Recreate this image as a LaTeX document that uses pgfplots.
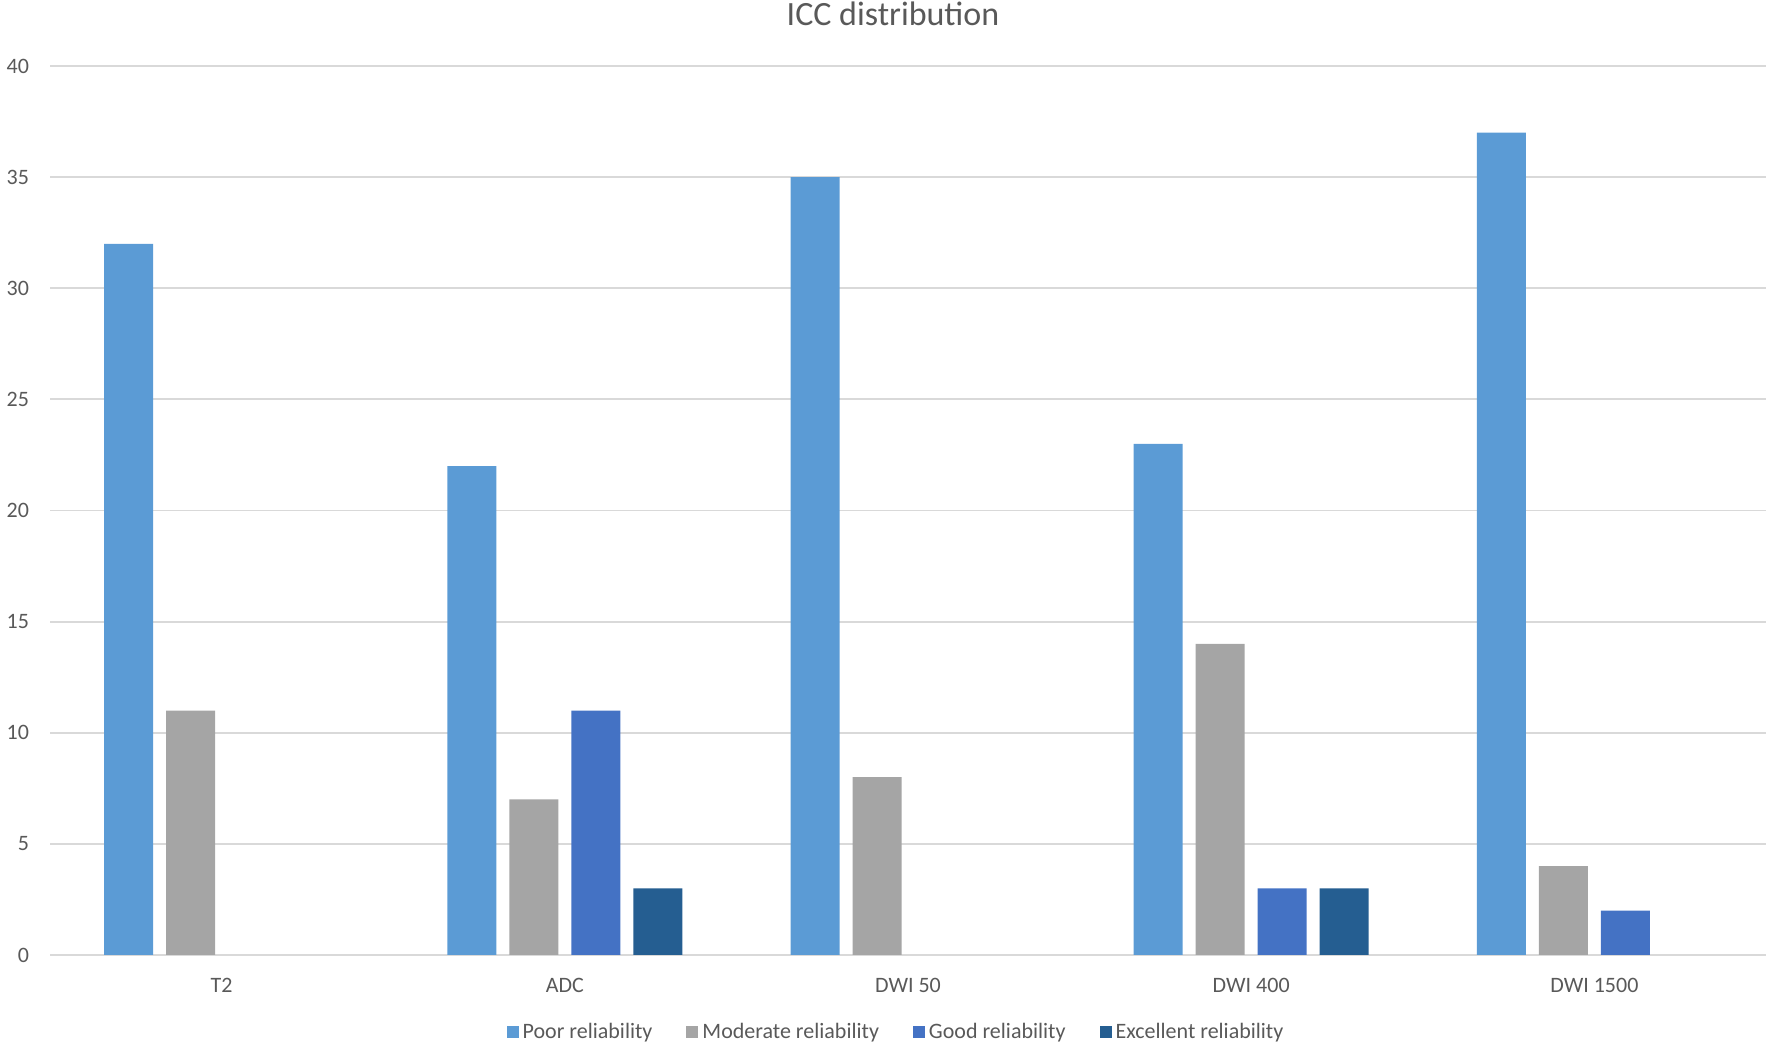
\documentclass[border=0pt]{standalone}
\usepackage{pgfplots}
\pgfplotsset{compat=1.18}
\usepackage{fontspec}
\setmainfont{Carlito}
\definecolor{cPoor}{HTML}{5B9BD5}
\definecolor{cMod}{HTML}{A5A5A5}
\definecolor{cGood}{HTML}{4472C4}
\definecolor{cExc}{HTML}{255E91}
\definecolor{gridc}{HTML}{D9D9D9}
\definecolor{txt}{HTML}{595959}
\begin{document}
\begin{tikzpicture}
\path[use as bounding box] (0,0) rectangle (886pt,524pt);
\begin{axis}[
  at={(25pt,46.5pt)}, anchor=south west,
  scale only axis, width=858pt, height=444.5pt,
  ybar=6.5pt, bar width=24.5pt,
  xmin=-0.5, xmax=4.5, ymin=0, ymax=40,
  xtick={0,1,2,3,4},
  xticklabels={T2,ADC,DWI 50,DWI 400,DWI 1500},
  ytick={0,5,...,40},
  axis lines*=left,
  y axis line style={draw=none},
  x axis line style={draw=gridc, line width=0.9pt},
  tick style={draw=none},
  ymajorgrids, major grid style={draw=gridc, line width=0.9pt},
  /pgf/number format/assume math mode=true,
  tick label style={font=\fontsize{11}{13}\selectfont, text=txt},
  yticklabel style={xshift=-7pt},
  xticklabel style={yshift=-4pt},
  title={ICC distribution},
  title style={font=\fontsize{17}{20}\selectfont, text=txt, at={(axis description cs:0.5,1)}, anchor=center, yshift=20pt, xshift=-7.5pt},
  legend columns=4,
  legend style={draw=none, fill=none, at={(axis description cs:0.4936,-0.0866)}, anchor=center,
    font=\fontsize{11}{13}\selectfont, text=txt,
    /tikz/every even column/.append style={column sep=15pt}},
  legend image code/.code={\fill[#1] (0pt,-3pt) rectangle (6pt,3pt);},
  legend cell align=left,
]
% zero counts (T2, DWI 50: good/excellent; DWI 1500: excellent) are not drawn
\addplot[fill=cPoor, draw=none] coordinates {(0,32) (1,22) (2,35) (3,23) (4,37)};
\addplot[fill=cMod, draw=none] coordinates {(0,11) (1,7) (2,8) (3,14) (4,4)};
\addplot[fill=cGood, draw=none] coordinates {(1,11) (3,3) (4,2)};
\addplot[fill=cExc, draw=none] coordinates {(1,3) (3,3)};
\legend{Poor reliability, Moderate reliability, Good reliability, Excellent reliability}
\end{axis}
\end{tikzpicture}
\end{document}
